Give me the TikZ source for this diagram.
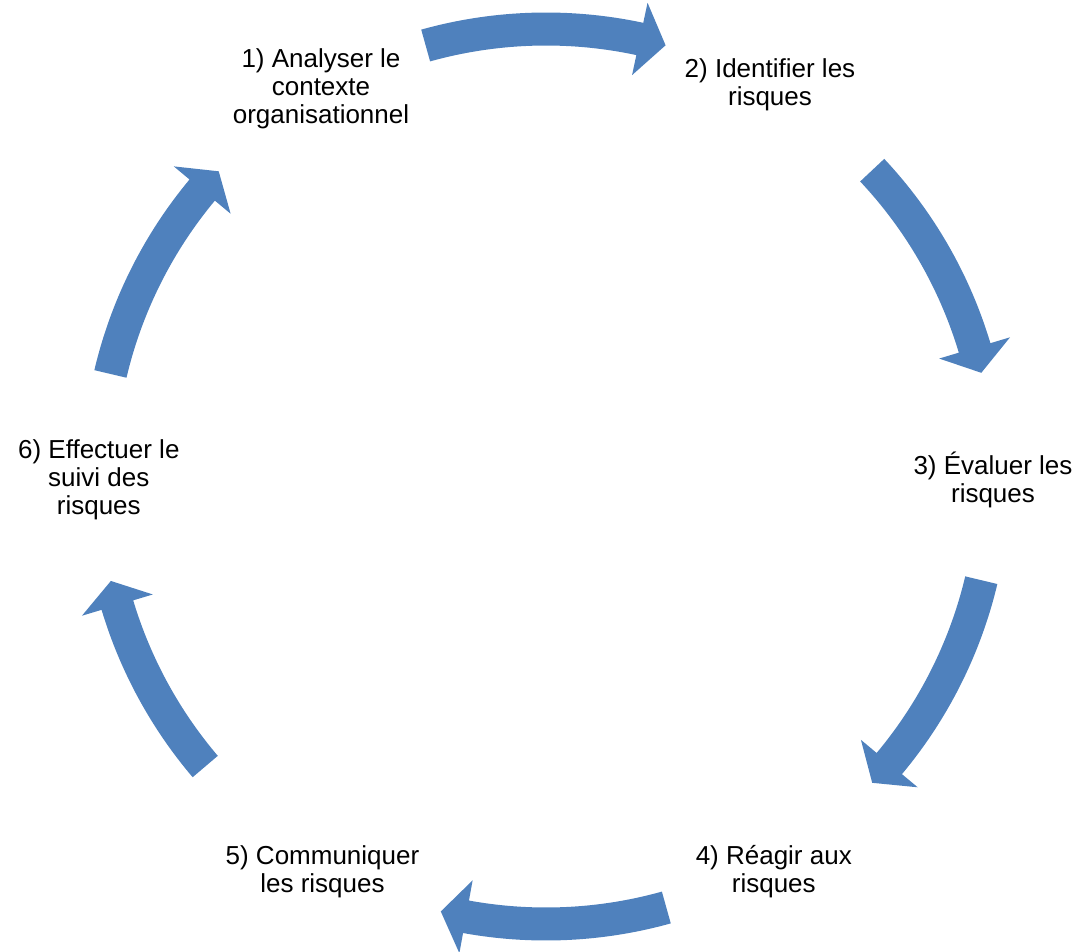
\documentclass[tikz,border=0pt]{standalone}
\usepackage{fontspec}
\setmainfont{Liberation Sans}
\definecolor{arrowblue}{HTML}{4F81BD}
\tikzset{
  cyclearrow/.style={fill=arrowblue, draw=none},
  steplabel/.style={align=center, anchor=base, inner sep=0pt, font=\fontsize{26pt}{28pt}\selectfont},
}
% #1 tail angle, #2 head base angle, #3 tip angle
\newcommand{\cyclearrowpath}[3]{%
  \fill[cyclearrow] (#1:464) arc[start angle=#1, end angle=#2, radius=464]
    -- (#2:484.5) -- (#3:447.5) -- (#2:410.5) -- (#2:431)
    arc[start angle=#2, end angle=#1, radius=431] -- cycle;}
\begin{document}
\begin{tikzpicture}[x=1pt,y=1pt]
\useasboundingbox (-546,-474.5) rectangle (535,476.5);
\cyclearrowpath{105.6}{77.9}{74.5}
\cyclearrowpath{43.2}{16.7}{13.4}
\cyclearrowpath{-13.4}{-39.9}{-43.2}
\cyclearrowpath{-74.4}{-100.3}{-103.6}
\cyclearrowpath{-139.6}{-163.3}{-166.5}
\cyclearrowpath{166.75}{140.2}{137.0}
\node[steplabel] (s1) at (-225,352.5) {1) Analyser le\\contexte\\organisationnel};
\node[steplabel] (s2) at (224,371) {2) Identifier les\\risques};
\node[steplabel] (s3) at (447,-26) {3) Évaluer les\\risques};
\node[steplabel] (s4) at (227.8,-415.5) {4) Réagir aux\\risques};
\node[steplabel] (s5) at (-223.5,-415.5) {5) Communiquer\\les risques};
\node[steplabel] (s6) at (-447.2,-37.8) {6) Effectuer le\\suivi des\\risques};
\end{tikzpicture}
\end{document}
